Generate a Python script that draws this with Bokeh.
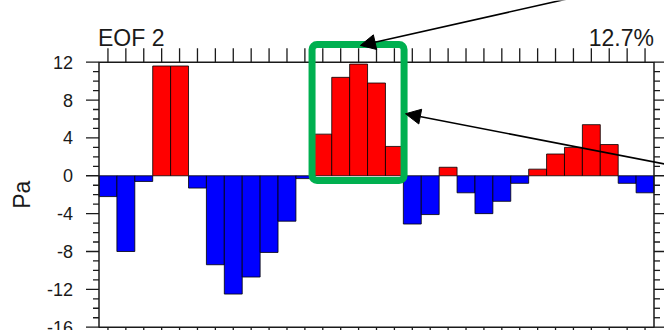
from math import pi

from bokeh.plotting import figure
from bokeh.models import (ColumnDataSource, Range1d, Arrow, NormalHead, BoxAnnotation, Grid)
from bokeh.core.properties import value
from bokeh.embed import file_html
from bokeh.resources import INLINE

# EOF 2 principal component, one bar per step
steps = list(range(1, 32))
values = [-2.2, -8.0, -0.6, 11.6, 11.6, -1.3, -9.4, -12.5, -10.7, -8.1, -4.8, -0.3,
          4.4, 10.4, 11.8, 9.8, 3.1, -5.1, -4.1, 0.9, -1.8, -4.0, -2.7, -0.8,
          0.7, 2.3, 3.0, 5.4, 3.3, -0.8, -1.8]
y_ticks = [-16, -12, -8, -4, 0, 4, 8, 12]
y_tick_labels = ["-16", "-12", "-8", "-4", "0", "4", "8", "12"]
y_minor = [v for v in range(-16, 13) if v not in y_ticks]
title_left = "EOF 2"
title_right = "12.7%"
y_label = "Pa"
highlight_first, highlight_last = 13, 17

# Data window of the bar panel
X0, X1 = 0.5, 31.5
Y0, Y1 = -16.0, 12.0

# Page geometry (pixels)
W, H = 664, 330
M_LEFT, M_RIGHT, M_TOP, M_BOTTOM = 98.5, 10.5, 61.7, 3.3
sx = (W - M_LEFT - M_RIGHT) / (X1 - X0)   # px per x unit
sy = (H - M_TOP - M_BOTTOM) / (Y1 - Y0)   # px per y unit

FONT = "Liberation Sans"
INK = "#1a1a1a"

p = figure(width=W, height=H, output_backend="svg", toolbar_location=None,
           x_range=Range1d(X0 - M_LEFT / sx, X1 + M_RIGHT / sx),
           y_range=Range1d(Y0 - M_BOTTOM / sy, Y1 + M_TOP / sy),
           x_axis_location=None, y_axis_location=None,
           min_border=0, outline_line_color=None,
           background_fill_color="white", border_fill_color="white")
for g in p.select(type=Grid):
    g.visible = False

# Bars
colors = ["#ff0000" if v > 0 else "#0000ff" for v in values]
src = ColumnDataSource(dict(x=steps, top=values, color=colors))
p.vbar(x="x", top="top", bottom=0, width=1.0, fill_color="color",
       line_color="black", line_width=0.8, source=src)

# Panel border
p.quad(left=[X0], right=[X1], bottom=[Y0], top=[Y1], fill_color=None,
       line_color=INK, line_width=1.5)

# Tick marks (lengths in px, converted to data units)
MAJ, MIN, XT = 13, 6, 14


def ticks_y(levels, length):
    dx = length / sx
    p.segment(x0=[X0] * len(levels), x1=[X0 - dx] * len(levels), y0=levels, y1=levels,
              line_color=INK, line_width=1.3)
    p.segment(x0=[X1] * len(levels), x1=[X1 + dx] * len(levels), y0=levels, y1=levels,
              line_color=INK, line_width=1.3)


ticks_y(y_ticks, MAJ)
ticks_y(y_minor, MIN)
dy = XT / sy
p.segment(x0=steps, x1=steps, y0=[Y1] * len(steps), y1=[Y1 + dy] * len(steps),
          line_color=INK, line_width=1.3)
p.segment(x0=steps, x1=steps, y0=[Y0] * len(steps), y1=[Y0 - dy] * len(steps),
          line_color=INK, line_width=1.3)

# Tick labels
p.text(x=[X0] * len(y_ticks), y=y_ticks, text=y_tick_labels, x_offset=-26,
       text_align="right", text_baseline="middle", text_font=value(FONT),
       text_font_size=value("18px"), text_color=INK)

# Axis label
p.text(x=[X0], y=[(Y0 + Y1) / 2], text=[y_label], x_offset=-77, angle=pi / 2,
       text_align="center", text_baseline="middle", text_font=value(FONT),
       text_font_size=value("23px"), text_color=INK)

# Titles above the panel corners
p.text(x=[X0], y=[Y1], text=[title_left], x_offset=-1, y_offset=-24,
       text_align="left", text_baseline="alphabetic", text_font=value(FONT),
       text_font_size=value("23px"), text_color=INK)
p.text(x=[X1], y=[Y1], text=[title_right], x_offset=0, y_offset=-24,
       text_align="right", text_baseline="alphabetic", text_font=value(FONT),
       text_font_size=value("23px"), text_color=INK)

# Highlight box around the warm-phase bars
box = BoxAnnotation(left=highlight_first - 0.6, right=highlight_last + 0.54,
                    top=13.87, bottom=-0.5, fill_alpha=0, line_alpha=1,
                    line_color="#00b050", line_width=7, border_radius=5)
p.add_layout(box)

# Pointer arrows
for xs, ys, xe, ye in [(27.0, 18.83, 15.1, 13.77), (33.0, 0.91, 17.62, 6.55)]:
    p.add_layout(Arrow(x_start=xs, y_start=ys, x_end=xe, y_end=ye,
                       line_color="black", line_width=1.6,
                       end=NormalHead(size=15, fill_color="black",
                                      line_color="black", line_width=1)))

open("out.html", "w").write(file_html(p, INLINE))
